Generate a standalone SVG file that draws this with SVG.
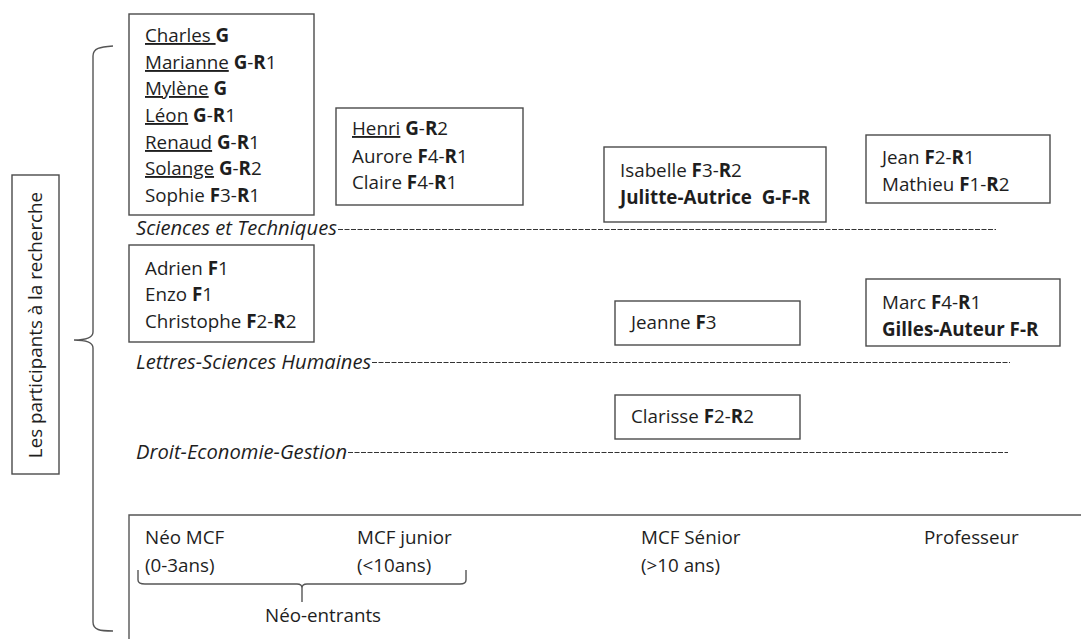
<svg xmlns="http://www.w3.org/2000/svg" width="1081" height="639" viewBox="0 0 1081 639">
<style>
text{font-family:"Open Sans","Liberation Sans",sans-serif;font-size:18.8px;fill:#1e1e1e}
.b{font-weight:bold}
.u{text-decoration:underline}
.it{font-style:italic;font-size:20.2px}
.box{fill:none;stroke:#4a4a4a;stroke-width:1.4}
.dash{stroke:#333;stroke-width:1;stroke-dasharray:5 1.5;fill:none}
.br{fill:none;stroke:#555;stroke-width:1.4}
</style>
<rect width="1081" height="639" fill="#fff"/>

<g id="label-participants">
<rect class="box" x="12" y="175" width="47" height="299"/>
<text transform="translate(41.5,325) rotate(-90)" text-anchor="middle">Les participants à la recherche</text>
</g>
<g id="brace-left">
<path class="br" d="M113,46 C100,47 93,48 93,56 L93,332 C93,338 85,340 74,340 C85,340 93,342 93,348 L93,622 C93,630 100,631 113,631"/>
</g>

<g id="box-st-neo">
<rect class="box" x="129" y="14" width="185" height="201"/>
<text x="145" y="42"><tspan class="u">Charles </tspan><tspan class="b">G</tspan></text>
<text x="145" y="69"><tspan class="u">Marianne</tspan> <tspan class="b">G</tspan>-<tspan class="b">R</tspan>1</text>
<text x="145" y="95"><tspan class="u">Mylène</tspan> <tspan class="b">G</tspan></text>
<text x="145" y="122"><tspan class="u">Léon</tspan> <tspan class="b">G</tspan>-<tspan class="b">R</tspan>1</text>
<text x="145" y="149"><tspan class="u">Renaud</tspan> <tspan class="b">G</tspan>-<tspan class="b">R</tspan>1</text>
<text x="145" y="175"><tspan class="u">Solange</tspan> <tspan class="b">G</tspan>-<tspan class="b">R</tspan>2</text>
<text x="145" y="202">Sophie <tspan class="b">F</tspan>3-<tspan class="b">R</tspan>1</text>
</g>

<g id="box-st-junior">
<rect class="box" x="336" y="108" width="187" height="97"/>
<text x="352" y="135"><tspan class="u">Henri</tspan> <tspan class="b">G</tspan>-<tspan class="b">R</tspan>2</text>
<text x="352" y="163">Aurore <tspan class="b">F</tspan>4-<tspan class="b">R</tspan>1</text>
<text x="352" y="189">Claire <tspan class="b">F</tspan>4-<tspan class="b">R</tspan>1</text>
</g>

<g id="box-st-senior">
<rect class="box" x="604" y="147" width="222" height="75"/>
<text x="620" y="177">Isabelle <tspan class="b">F</tspan>3-<tspan class="b">R</tspan>2</text>
<text x="620" y="204" class="b" xml:space="preserve">Julitte-Autrice  G-F-R</text>
</g>

<g id="box-st-prof">
<rect class="box" x="866" y="135" width="184" height="68"/>
<text x="882" y="164">Jean <tspan class="b">F</tspan>2-<tspan class="b">R</tspan>1</text>
<text x="882" y="191">Mathieu <tspan class="b">F</tspan>1-<tspan class="b">R</tspan>2</text>
</g>

<g id="box-lsh-neo">
<rect class="box" x="129" y="245" width="185" height="97"/>
<text x="145" y="275">Adrien <tspan class="b">F</tspan>1</text>
<text x="145" y="301">Enzo <tspan class="b">F</tspan>1</text>
<text x="145" y="328">Christophe <tspan class="b">F</tspan>2-<tspan class="b">R</tspan>2</text>
</g>

<g id="box-lsh-senior">
<rect class="box" x="615" y="301" width="185" height="44"/>
<text x="631" y="329">Jeanne <tspan class="b">F</tspan>3</text>
</g>

<g id="box-lsh-prof">
<rect class="box" x="866" y="279" width="194" height="67"/>
<text x="882" y="309">Marc <tspan class="b">F</tspan>4-<tspan class="b">R</tspan>1</text>
<text x="882" y="336" class="b">Gilles-Auteur F-R</text>
</g>

<g id="box-deg-senior">
<rect class="box" x="615" y="395" width="185" height="44"/>
<text x="631" y="423">Clarisse <tspan class="b">F</tspan>2-<tspan class="b">R</tspan>2</text>
</g>

<g id="connectors">
<text x="136" y="235" class="it">Sciences et Techniques</text>
<line class="dash" x1="338" y1="229.5" x2="996" y2="229.5"/>
<text x="136" y="369" class="it">Lettres-Sciences Humaines</text>
<line class="dash" x1="372" y1="362.5" x2="1010" y2="362.5"/>
<text x="136" y="459" class="it">Droit-Economie-Gestion</text>
<line class="dash" x1="348" y1="452.5" x2="1008" y2="452.5"/>
</g>

<g id="axis">
<path class="br" d="M1081,515 L129,515 L129,639"/>
<text x="145" y="544">Néo MCF</text>
<text x="145" y="572">(0-3ans)</text>
<text x="357" y="544">MCF junior</text>
<text x="357" y="572">(&lt;10ans)</text>
<text x="641" y="544">MCF Sénior</text>
<text x="641" y="572">(&gt;10 ans)</text>
<text x="924" y="544">Professeur</text>
<path class="br" d="M138,570 L138,580 C138,583 140,584 145,584 L297,584 C300,584 302,585 302,588 C302,585 304,584 307,584 L460,584 C464,584 466,583 466,580 L466,570"/>
<line class="br" x1="302" y1="588" x2="302" y2="602"/>
<text x="265" y="622">Néo-entrants</text>
</g>
</svg>
